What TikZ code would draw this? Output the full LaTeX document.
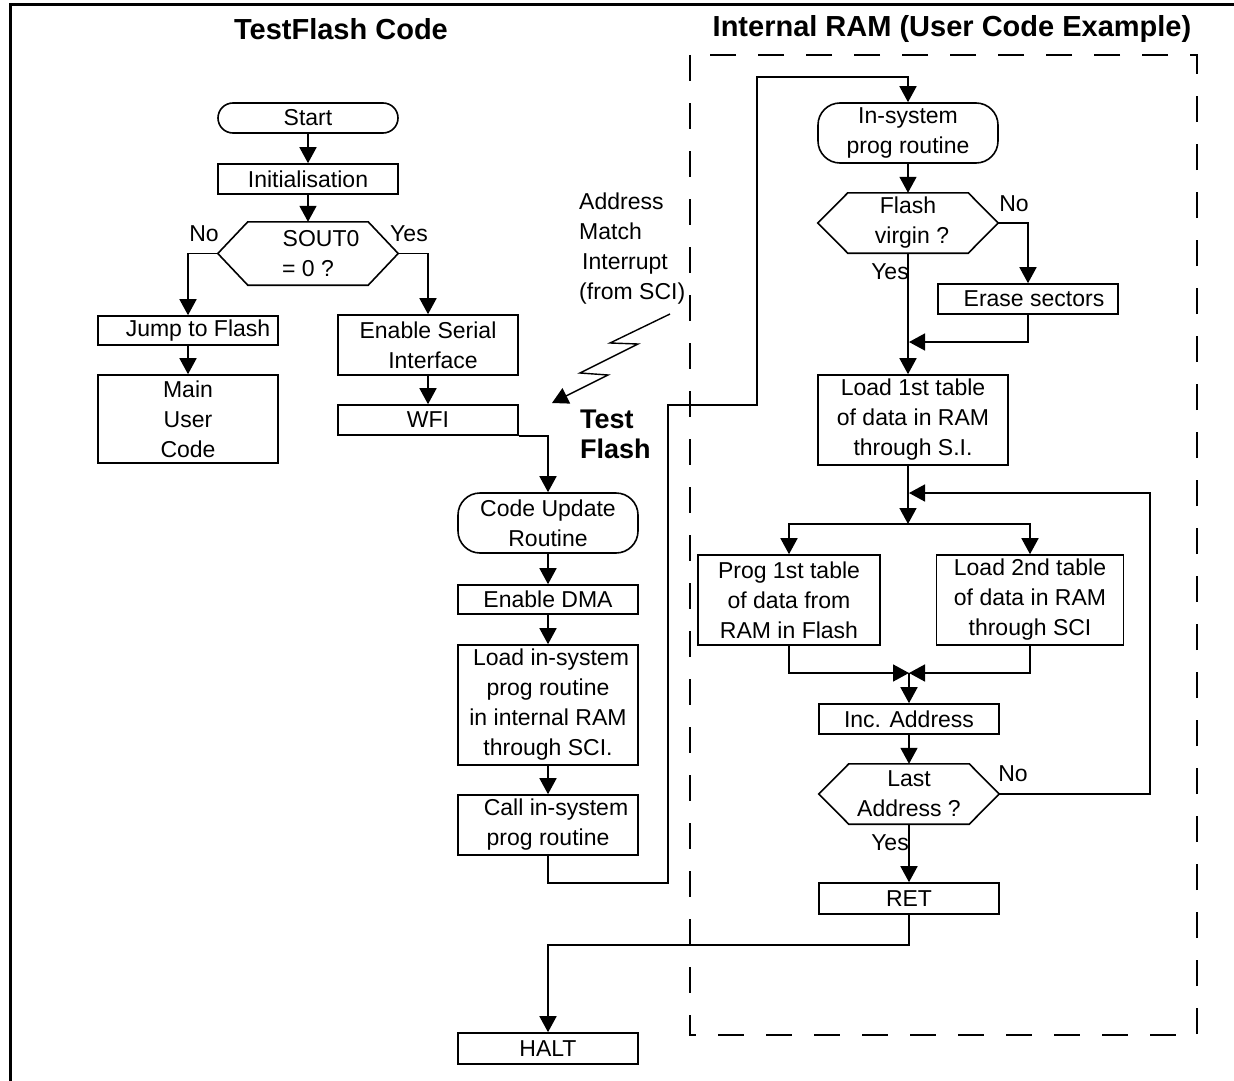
\documentclass[tikz,border=0pt]{standalone}
\usepackage{fontspec}
\setmainfont{Liberation Sans}
\usetikzlibrary{arrows.meta,calc}
\begin{document}
\begin{tikzpicture}[x=1pt,y=-1pt,
  txt/.style={font=\fontsize{23}{30}\selectfont, inner sep=0pt},
  bx/.style={txt, draw, line width=1.6pt, minimum width=180pt, minimum height=30pt, align=center},
  rbx/.style={bx, rounded corners=15pt},
  rbxb/.style={bx, rounded corners=22pt},
  hexa/.style={txt, minimum width=180pt, minimum height=60pt, align=center},
  conn/.style={line width=1.6pt, -{Triangle[length=16pt,width=17pt]}},
  plain/.style={line width=1.6pt},
  ttl/.style={font=\fontsize{29}{32}\selectfont\bfseries, inner sep=0pt},
  frame/.style={line width=3pt},
  dbox/.style={line width=1.8pt, dash pattern=on 26pt off 22pt},
]
\useasboundingbox (0,0) rectangle (1234,1081);
% outer frame
\draw[frame] (1234,5) -- (10,5) -- (10,1081);
% titles
\node[ttl] (t1) at (341,29) {TestFlash Code};
\node[ttl] (t2) at (952,29) {Internal RAM (User Code Example)};
% dashed region
\draw[dbox] (690,55) rectangle (1197,1035);

% left column
\node[rbx] (start) at (308,118) {Start};
\node[bx] (init) at (308,179) {Initialisation};
\node[hexa, minimum height=63pt] (sout) at (308,253.5) {\hspace*{26pt}SOUT0\\= 0 ?};
\node[bx, minimum height=29pt] (jump) at (188,330.5) {\hspace*{20pt}Jump to Flash};
\node[bx, minimum height=88pt] (main) at (188,419) {Main\\User\\Code};
\node[bx, minimum height=60pt] (esi) at (428,345) {Enable Serial\\\hspace*{10pt}Interface};
\node[bx] (wfi) at (428,420) {WFI};

% middle column
\node[rbxb, minimum height=60pt] (cur) at (548,523) {Code Update\\Routine};
\node[bx, minimum height=29pt] (dma) at (548,599.5) {Enable DMA};
\node[bx, minimum height=120pt] (load) at (548,705) {\hspace*{6pt}Load in-system\\prog routine\hspace*{18pt}\\in internal RAM\\through SCI.};
\node[bx, minimum height=60pt] (call) at (548,825) {\hspace*{16pt}Call in-system\\prog routine};
\node[bx, minimum height=31pt] (halt) at (548,1048.5) {HALT};

% right column
\node[rbxb, minimum height=60pt] (isp) at (908,133) {In-system\\prog routine};
\node[hexa] (fv) at (908,223) {Flash\\\hspace*{8pt}virgin ?};
\node[bx] (erase) at (1028,299) {\hspace*{12pt}Erase sectors};
\node[bx, minimum width=190pt, minimum height=90pt] (l1) at (913,420) {Load 1st table\\of data in RAM\\through S.I.};
\node[bx, minimum width=182pt, minimum height=90pt] (prog) at (789,600) {Prog 1st table\\of data from\\RAM in Flash};
\node[bx, minimum width=187pt, minimum height=90pt] (l2) at (1030,600) {Load 2nd table\\of data in RAM\\through SCI};
\node[bx] (inc) at (909,719) {Inc. Address};
\node[hexa] (la) at (909,794) {Last\\Address ?};
\node[bx, minimum height=31pt] (ret) at (909,898.5) {RET};

% hexagon outlines
\foreach \h in {sout,fv,la}{
  \draw[plain] (\h.west) -- ($(\h.north west)+(30,0)$) -- ($(\h.north east)+(-30,0)$)
    -- (\h.east) -- ($(\h.south east)+(-30,0)$) -- ($(\h.south west)+(30,0)$) -- cycle;
}

% labels
\node[txt] (n1) at (204,234) {No};
\node[txt] (y1) at (409,234) {Yes};
\node[txt] (n2) at (1014,204) {No};
\node[txt] (y2) at (890,272) {Yes};
\node[txt] (n3) at (1013,774) {No};
\node[txt] (y3) at (890,843) {Yes};
\node[txt, align=left, anchor=west] (ami) at (579,249) {Address\\Match\\\hspace*{3pt}Interrupt\\(from SCI)};
\node[font=\fontsize{27}{30}\selectfont\bfseries, inner sep=0pt, align=left, anchor=west] (tf) at (580,434) {Test\\Flash};

% lightning bolt
\coordinate (bolt) at (670,314);
\draw[conn, line width=1.4pt] (bolt) -- (610,343) -- (638,344) -- (580,373) -- (608,375) -- (552,403);

% connectors left
\draw[conn] (start) -- (init);
\draw[conn] (init) -- (sout.north);
\draw[conn] (sout.west) -| (jump.north);
\draw[conn] (sout.east) -| (esi.north);
\draw[conn] (jump) -- (main);
\draw[conn] (esi) -- (wfi);
\draw[conn] (wfi.south east) -| (cur.north);
\draw[conn] (cur) -- (dma);
\draw[conn] (dma) -- (load);
\draw[conn] (load) -- (call);
\coordinate (j1) at (668,883);
\coordinate (j2) at (757,405);
\coordinate (j3) at (757,77);
\draw[conn] (call.south) |- (j1) |- (j2) |- (j3) -| (isp.north);

% connectors right
\draw[conn] (isp) -- (fv.north);
\draw[conn] (fv.east) -| (erase.north);
\draw[conn] (fv.south) -- (fv.south |- l1.north);
\coordinate (m1) at (909,342);
\draw[conn] (erase.south) |- (m1);
\coordinate (b0) at (908,524);
\draw[conn] (l1.south -| fv.south) -- (b0);
\draw[conn] (b0) -| (prog.north);
\draw[conn] (b0) -| (l2.north);
\coordinate (lp) at (1150,493);
\coordinate (b1) at (909,493);
\draw[conn] (la.east) -| (lp) -- (b1);
\coordinate (mg) at (909,673);
\draw[conn] (prog.south) |- (mg);
\draw[conn] (l2.south) |- (mg);
\draw[conn] (mg) -- (inc.north);
\draw[conn] (inc) -- (la.north);
\draw[conn] (la.south) -- (ret.north);
\coordinate (r1) at (548,945);
\draw[conn] (ret.south) |- (r1) -- (halt.north);
\end{tikzpicture}
\end{document}
